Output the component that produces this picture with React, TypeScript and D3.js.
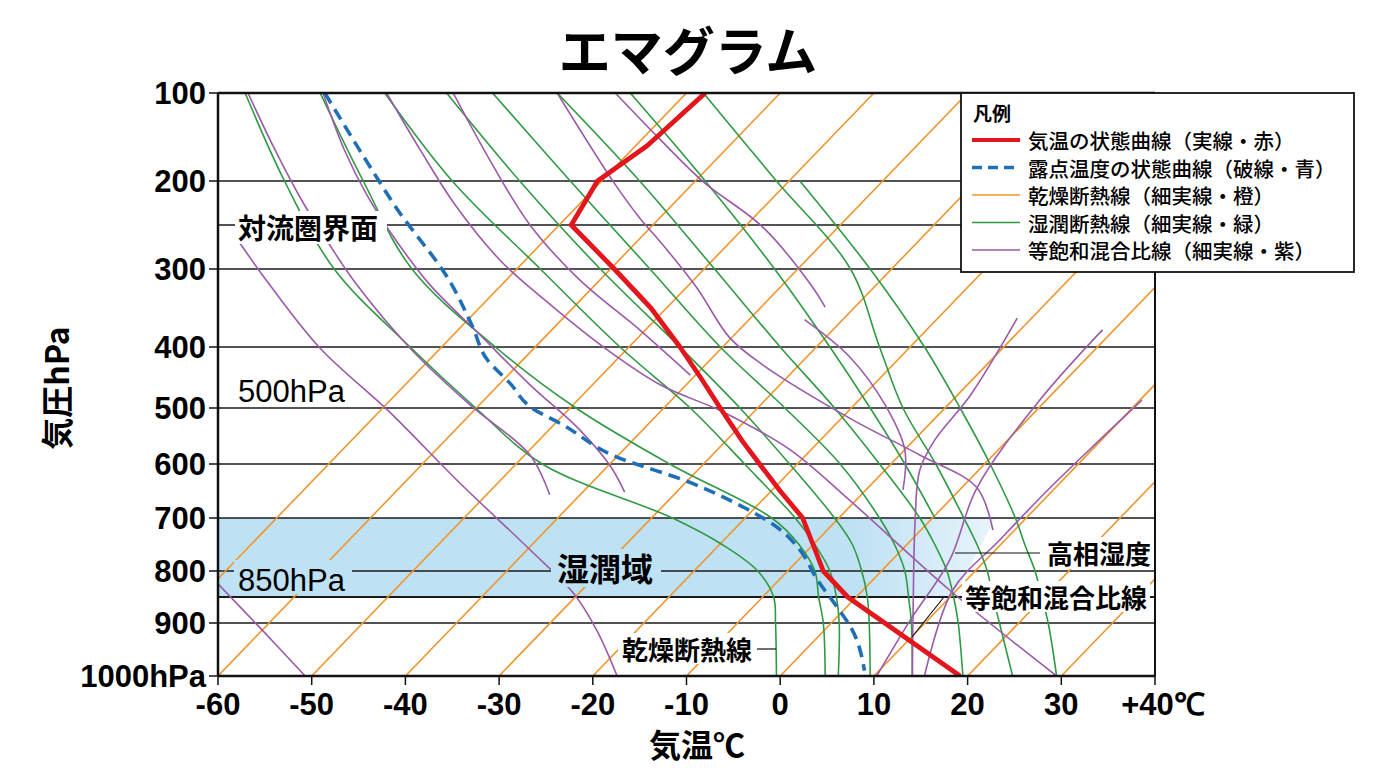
import * as d3 from "d3";

// axes
const tempTicks = [-60, -50, -40, -30, -20, -10, 0, 10, 20, 30, 40];
const tempTickLabels = ["-60", "-50", "-40", "-30", "-20", "-10", "0", "10", "20", "30", "+40℃"];
const pressureTicks = [100, 200, 300, 400, 500, 600, 700, 800, 900, 1000];
const pressureTickLabels = ["100", "200", "300", "400", "500", "600", "700", "800", "900", "1000hPa"];
const isobars = [200, 250, 300, 400, 500, 600, 700, 800, 850, 900];

// temperature profile (red)
const tempP = [100, 160, 200, 250, 300, 350, 400, 450, 500, 560, 600, 650, 700, 750, 800, 850, 1000];
const tempT = [-8, -14.2, -19.5, -22.3, -17.7, -13.8, -10.7, -8.5, -6.4, -4, -2.2, 0, 2.4, 3.5, 4.6, 7.2, 19.2];

// dew point profile (blue dashed)
const dewP = [100, 180, 230, 317, 375, 420, 460, 500, 530, 585, 635, 667, 722, 760, 815, 870, 910, 990];
const dewT = [-48.6, -44, -41, -35.2, -32.8, -31.3, -28.8, -26.5, -23.2, -17.8, -9.5, -5.4, 0, 2.1, 3.9, 6.1, 7.6, 9];

// dry adiabats: T at 1000 hPa and at 100 hPa
const dryBottomT = [-70, -60, -50, -40, -30, -20, -10, 0, 10, 20, 30, 40];
const dryTopT = [-10, 0, 10, 20, 30, 40, 50, 60, 70, 80, 90, 100];

// moist adiabats: T at each level
const moistLevels = [100, 200, 300, 400, 500, 600, 700, 750, 800, 850, 900, 1000];
const moistAdiabats: (number | null)[][] = [
  [-57.1, -52.9, -47.6, -39.5, -32.5, -25.4, -11.5, -6.2, -2.4, -0.7, -0.5, -0.4],
  [-49.1, -44.5, -39.3, -30.4, -21.8, -11.8, -0.9, 2.0, 3.7, 4.1, 4.6, 4.8],
  [-42.2, -35.0, -25.6, -17.1, -9.6, -3.8, 1.6, 3.7, 5.3, 6.0, 6.3, 6.2],
  [-35.6, -27.8, -19.2, -10.7, -4.3, 1.0, 5.8, 7.7, 8.7, 9.3, 9.5, 9.6],
  [-30.7, -22.4, -13.9, -6.4, 0.5, 6.4, 10.6, 12.2, 13.3, 13.7, 14.0, 14.1],
  [-23.8, -15.0, -7.0, 0.0, 5.8, 10.6, 14.9, 16.5, 17.8, 18.5, 19.0, 19.5],
  [-16.0, -8.0, -0.6, 5.3, 9.6, 13.3, 16.5, null, null, null, null, null],
  [-8.2, -0.4, 7.5, 10.6, 13.1, 16.6, 19.6, 21.0, 22.1, 22.7, 23.4, 24.8],
  [null, 2.1, 9.6, 15.4, 19.2, 22.4, 25.1, 26.1, 27.2, 27.9, 28.6, 29.5],
];

// saturation mixing ratio lines: [T, p]
const mixingLines: [number, number][][] = [
  [[-56.8, 100], [-53.9, 165], [-50.9, 225], [-48.3, 269], [-45.2, 320], [-39.5, 402], [-33.1, 495], [-26.7, 584], [-24.6, 657]],
  [[-57.9, 267], [-54.5, 320], [-49.1, 402], [-41.7, 507], [-34.5, 630], [-26.7, 760], [-22.1, 842], [-19.6, 913], [-17.4, 1000]],
  [[-60.9, 808], [-55.3, 913], [-50.7, 1000]],
  [[-48.8, 100], [-46.5, 165], [-44.1, 216], [-40.9, 269], [-37.4, 320], [-32.0, 385], [-26.7, 462], [-21.4, 539], [-18.2, 602], [-16.6, 652]],
  [[-42.0, 100], [-38.4, 165], [-34.7, 227], [-29.9, 290], [-25.1, 340], [-19.2, 397], [-12.8, 462], [-6.1, 507], [1.0, 574], [7.4, 667], [18.1, 837], [29.5, 1000]],
  [[-34.9, 100], [-31.0, 176], [-26.7, 250], [-21.4, 314], [-15.0, 378], [-9.6, 446]],
  [[-23.8, 100], [-17.8, 201], [-15.0, 242], [-12.8, 269], [-8.9, 324], [-5.4, 388], [-1.8, 430], [7.4, 518], [14.9, 584], [21.0, 644], [22.7, 723]],
  [[-17.6, 100], [-12.8, 153], [-8.2, 201], [-1.8, 253], [3.5, 324], [4.8, 349]],
  [[2.6, 365], [7.4, 416], [11.2, 495], [13.3, 575], [13.1, 648]],
  [[25.3, 363], [20.3, 479], [16.5, 557], [14.9, 611], [14.4, 704], [14.2, 856], [14.1, 1000]],
  [[34.4, 378], [27.7, 487], [21.0, 644], [18.1, 779], [13.9, 894], [10.3, 1000]],
  [[38.6, 487], [34.1, 557], [28.8, 644], [23.4, 742], [18.4, 837], [15.4, 1000]],
];

// moist zone band
const moistZoneP = [700, 850];
const moistZoneEdgeT = [23, 18.5];

const legendLabels = [
  "気温の状態曲線（実線・赤）",
  "露点温度の状態曲線（破線・青）",
  "乾燥断熱線（細実線・橙）",
  "湿潤断熱線（細実線・緑）",
  "等飽和混合比線（細実線・紫）",
];

const RED = "#e2161c";
const BLUE = "#1f6fb6";
const ORANGE = "#f0952d";
const GREEN = "#2f9a43";
const PURPLE = "#9b5aa8";
const BAND = "#bfe1f4";
const JP = "'Noto Sans CJK JP', sans-serif";
const NUM = "'Liberation Sans', Arial, sans-serif";

export default function App() {
  const x = d3.scaleLinear().domain([-60, 40]).range([218, 1155]);
  const y = d3
    .scaleLinear()
    .domain(pressureTicks)
    .range([93, 181, 269, 347, 408, 464, 518, 571, 623, 676]);

  const straight = d3
    .line<[number, number]>()
    .x((d) => x(d[0]))
    .y((d) => y(d[1]));
  const smooth = d3
    .line<[number, number]>()
    .x((d) => x(d[0]))
    .y((d) => y(d[1]))
    .curve(d3.curveCatmullRom.alpha(0.5));
  const moistLine = d3
    .line<number | null>()
    .defined((d) => d !== null)
    .x((d) => x(d as number))
    .y((_, i) => y(moistLevels[i]))
    .curve(d3.curveCatmullRom.alpha(0.5));
  const dewLine = d3
    .line<number>()
    .x((d) => x(d))
    .y((_, i) => y(dewP[i]))
    .curve(d3.curveMonotoneY);

  const x0 = x(-60);
  const x1 = x(40);
  const yTop = y(100);
  const yBot = y(1000);

  const band = [
    [x0, y(moistZoneP[0])],
    [x(moistZoneEdgeT[0]), y(moistZoneP[0])],
    [x(moistZoneEdgeT[1]), y(moistZoneP[1])],
    [x0, y(moistZoneP[1])],
  ];

  const legendStyles = [
    { stroke: RED, width: 4, dash: "" },
    { stroke: BLUE, width: 3.5, dash: "10 6" },
    { stroke: ORANGE, width: 1.6, dash: "" },
    { stroke: GREEN, width: 1.6, dash: "" },
    { stroke: PURPLE, width: 1.6, dash: "" },
  ];

  return (
    <svg
      width={1376}
      height={768}
      style={{ position: "absolute", left: 0, top: 0, background: "#fff" }}
      fontFamily={JP}
    >
      <defs>
        <clipPath id="plotClip">
          <rect x={x0} y={yTop} width={x1 - x0} height={yBot - yTop} />
        </clipPath>
        <linearGradient id="bandFade" gradientUnits="userSpaceOnUse" x1={x0} x2={x(moistZoneEdgeT[0])} y1={0} y2={0}>
          <stop offset="0" stopColor={BAND} stopOpacity={1} />
          <stop offset="0.82" stopColor={BAND} stopOpacity={1} />
          <stop offset="1" stopColor={BAND} stopOpacity={0.35} />
        </linearGradient>
      </defs>

      {/* title */}
      <text x={688} y={48} textAnchor="middle" dominantBaseline="central" fontSize={52} fontWeight={700}>
        エマグラム
      </text>

      {/* moist zone */}
      <polygon points={band.map((p) => p.join(",")).join(" ")} fill="url(#bandFade)" />

      {/* isobars */}
      {isobars.map((p) => (
        <line key={p} x1={x0} x2={x1} y1={y(p)} y2={y(p)} stroke="#1a1a1a" strokeWidth={p === 850 ? 2 : 1.3} />
      ))}

      <g clipPath="url(#plotClip)" fill="none">
        {dryBottomT.map((t, i) => (
          <path
            key={"d" + i}
            d={straight([[t, 1000], [dryTopT[i], 100]]) as string}
            stroke={ORANGE}
            strokeWidth={1.6}
          />
        ))}
        {moistAdiabats.map((row, i) => (
          <path key={"m" + i} d={moistLine(row) as string} stroke={GREEN} strokeWidth={1.6} />
        ))}
        {mixingLines.map((pts, i) => (
          <path key={"w" + i} d={smooth(pts) as string} stroke={PURPLE} strokeWidth={1.6} />
        ))}
        <path d={dewLine(dewT) as string} stroke={BLUE} strokeWidth={3.6} strokeDasharray="12 7" />
        <path
          d={straight(tempT.map((t, i) => [t, tempP[i]] as [number, number])) as string}
          stroke={RED}
          strokeWidth={4.8}
          strokeLinejoin="round"
        />
      </g>

      {/* frame */}
      <line x1={x0} x2={x1} y1={yTop} y2={yTop} stroke="#111" strokeWidth={2.5} />
      <line x1={x0} x2={x1} y1={yBot} y2={yBot} stroke="#111" strokeWidth={2.5} />
      <line x1={x0} x2={x0} y1={yTop} y2={yBot} stroke="#111" strokeWidth={2.5} />
      <line x1={x1} x2={x1} y1={yTop} y2={yBot} stroke="#111" strokeWidth={2} />

      {/* y ticks */}
      {pressureTicks.map((p, i) => (
        <g key={"py" + p}>
          <line x1={x0 - 9} x2={x0} y1={y(p)} y2={y(p)} stroke="#111" strokeWidth={1.5} />
          <text
            x={x0 - 12}
            y={y(p)}
            textAnchor="end"
            dominantBaseline="central"
            fontSize={31}
            fontFamily={NUM}
            fontWeight={700}
          >
            {pressureTickLabels[i]}
          </text>
        </g>
      ))}

      {/* x ticks */}
      {tempTicks.map((t, i) => (
        <g key={"tx" + t}>
          <line x1={x(t)} x2={x(t)} y1={yBot} y2={yBot + 9} stroke="#111" strokeWidth={1.5} />
          <text
            x={i === tempTicks.length - 1 ? x(t) + 8 : x(t)}
            y={704}
            textAnchor="middle"
            dominantBaseline="central"
            fontSize={31}
            fontFamily={NUM}
            fontWeight={700}
          >
            {tempTickLabels[i]}
          </text>
        </g>
      ))}

      {/* axis titles */}
      <text x={697} y={743} textAnchor="middle" dominantBaseline="central" fontSize={32} fontWeight={700}>
        気温℃
      </text>
      <text
        transform="translate(55,388) rotate(-90)"
        textAnchor="middle"
        dominantBaseline="central"
        fontSize={32}
        fontWeight={700}
      >
        気圧hPa
      </text>

      {/* annotations */}
      <rect x={235} y={211} width={152} height={33} fill="#fff" />
      <text x={238} y={227} dominantBaseline="central" fontSize={28} fontWeight={700}>
        対流圏界面
      </text>

      <text x={238} y={391} dominantBaseline="central" fontSize={31} fontFamily={NUM}>
        500hPa
      </text>

      <rect x={234} y={560} width={118} height={34} fill={BAND} />
      <text x={238} y={580} dominantBaseline="central" fontSize={31} fontFamily={NUM}>
        850hPa
      </text>

      <rect x={551} y={549} width={110} height={38} fill={BAND} />
      <text x={557} y={567} dominantBaseline="central" fontSize={32} fontWeight={700}>
        湿潤域
      </text>

      <rect x={618} y={633} width={138} height={31} fill="#fff" />
      <text x={622} y={648} dominantBaseline="central" fontSize={26} fontWeight={700}>
        乾燥断熱線
      </text>
      <line x1={757} x2={776} y1={649} y2={649} stroke="#111" strokeWidth={1.2} />

      <rect x={1043} y={537} width={108} height={32} fill="#fff" />
      <text x={1047} y={552} dominantBaseline="central" fontSize={26} fontWeight={700}>
        高相湿度
      </text>
      <line x1={955} x2={1040} y1={553} y2={553} stroke="#111" strokeWidth={1.2} />

      <rect x={962} y={581} width={188} height={31} fill="#fff" />
      <text x={965} y={596} dominantBaseline="central" fontSize={26} fontWeight={700}>
        等飽和混合比線
      </text>
      <line x1={944} x2={912} y1={597} y2={637} stroke="#111" strokeWidth={1.2} />

      {/* legend */}
      <rect x={961} y={93} width={393} height={179} fill="#fff" stroke="#111" strokeWidth={1.8} />
      <text x={973} y={112} dominantBaseline="central" fontSize={19} fontWeight={700}>
        凡例
      </text>
      {legendLabels.map((label, i) => {
        const ly = 140 + i * 27.5;
        const s = legendStyles[i];
        return (
          <g key={label}>
            <line
              x1={972}
              x2={1020}
              y1={ly}
              y2={ly}
              stroke={s.stroke}
              strokeWidth={s.width}
              strokeDasharray={s.dash || undefined}
            />
            <text x={1028} y={ly} dominantBaseline="central" fontSize={20.5} fontWeight={500}>
              {label}
            </text>
          </g>
        );
      })}
    </svg>
  );
}
